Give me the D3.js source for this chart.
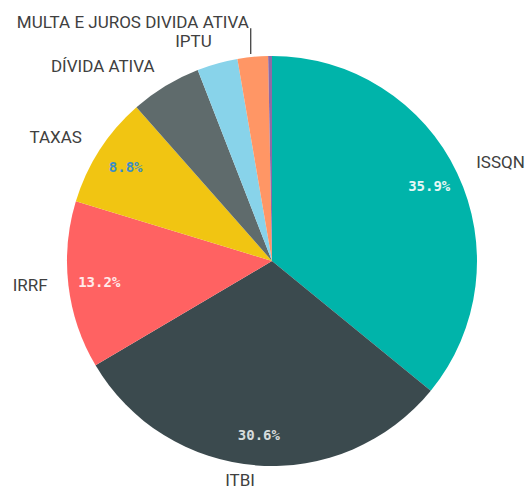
<!DOCTYPE html>
<html>
<head>
<meta charset="utf-8">
<script src="https://cdn.jsdelivr.net/npm/d3@7"></script>
<style>
  html, body { margin: 0; padding: 0; background: #ffffff; }
  svg { display: block; }
</style>
</head>
<body>
<div id="chart"></div>
<script>
// ---- data ----
const categories = ["ISSQN", "ITBI", "IRRF", "TAXAS", "DÍVIDA ATIVA", "IPTU", "MULTA E JUROS DIVIDA ATIVA", "OUTROS"];
const values = [35.9, 30.6, 13.2, 8.8, 5.6, 3.2, 2.4, 0.3];
const sliceColors = ["#00b4aa", "#3b4a4e", "#ff6262", "#f1c512", "#5f6b6c", "#88d3ea", "#ff9665", "#8e6aa6"];
const pctColors = ["#e6f7f5", "#d6dbdc", "#ffeaea", "#3d8ec5", "#ffffff", "#333333", "#333333", "#333333"];

const W = 530, H = 490;
const cx = 272, cy = 261, R = 205;
const labelR = 226, pctR = 174;
const pctThreshold = 6;   // show % inside slices at or above this
const nameThreshold = 1;  // show outer labels at or above this

const svg = d3.select("#chart").append("svg")
  .attr("width", W).attr("height", H);

const g = svg.append("g").attr("transform", `translate(${cx},${cy})`);

const data = categories.map((c, i) => ({ name: c, value: values[i], i }));

const pie = d3.pie().sort(null).value(d => d.value);
const arcs = pie(data);
const arc = d3.arc().innerRadius(0).outerRadius(R);

g.selectAll("path.slice").data(arcs).enter().append("path")
  .attr("class", "slice")
  .attr("d", arc)
  .attr("fill", d => sliceColors[d.data.i]);

// percentage labels
const pctArc = d3.arc().innerRadius(pctR).outerRadius(pctR);
const fmt = d3.format(".1f");
g.selectAll("text.pct").data(arcs.filter(d => d.data.value >= pctThreshold)).enter().append("text")
  .attr("class", "pct")
  .attr("x", d => pctArc.centroid(d)[0])
  .attr("y", d => pctArc.centroid(d)[1])
  .attr("text-anchor", "middle")
  .attr("dominant-baseline", "central")
  .attr("font-family", "'DejaVu Sans Mono', monospace")
  .attr("font-weight", "bold")
  .attr("font-size", 14)
  .attr("fill", d => pctColors[d.data.i])
  .text(d => fmt(d.data.value) + "%");

// outer labels with simple collision avoidance
const lineH = 19;
const labels = arcs.filter(d => d.data.value >= nameThreshold).map(d => {
  const a = (d.startAngle + d.endAngle) / 2;
  const s = Math.sin(a), c = Math.cos(a);
  const yy = -labelR * c - 2 - (c < 0 ? 4 * Math.abs(c) : 0);
  return {
    d, a, s, c,
    x: labelR * s,
    y0: yy,
    y: yy,
    side: s >= 0 ? "right" : "left"
  };
});

["left", "right"].forEach(side => {
  const items = labels.filter(l => l.side === side).sort((p, q) => q.y - p.y);
  for (let k = 1; k < items.length; k++) {
    if (items[k].y > items[k - 1].y - lineH) {
      items[k].y = items[k - 1].y - lineH;
    }
  }
});

labels.forEach(l => {
  const shifted = Math.abs(l.y - l.y0) > 0.5;
  const lx = l.x - (l.side === "left" && shifted ? 2 : 0);
  g.append("text")
    .attr("x", lx)
    .attr("y", l.y)
    .attr("text-anchor", l.side === "right" ? "start" : "end")
    .attr("dominant-baseline", "central")
    .attr("font-family", "Roboto, sans-serif")
    .attr("font-size", 17)
    .attr("fill", "#404040")
    .text(l.d.data.name);
  if (shifted) {
    const py = -(R + 3) * l.c;
    g.append("line")
      .attr("x1", lx + 2).attr("y1", l.y + 6)
      .attr("x2", lx + 2).attr("y2", py)
      .attr("stroke", "#333333")
      .attr("stroke-width", 1.2);
  }
});
</script>
</body>
</html>
